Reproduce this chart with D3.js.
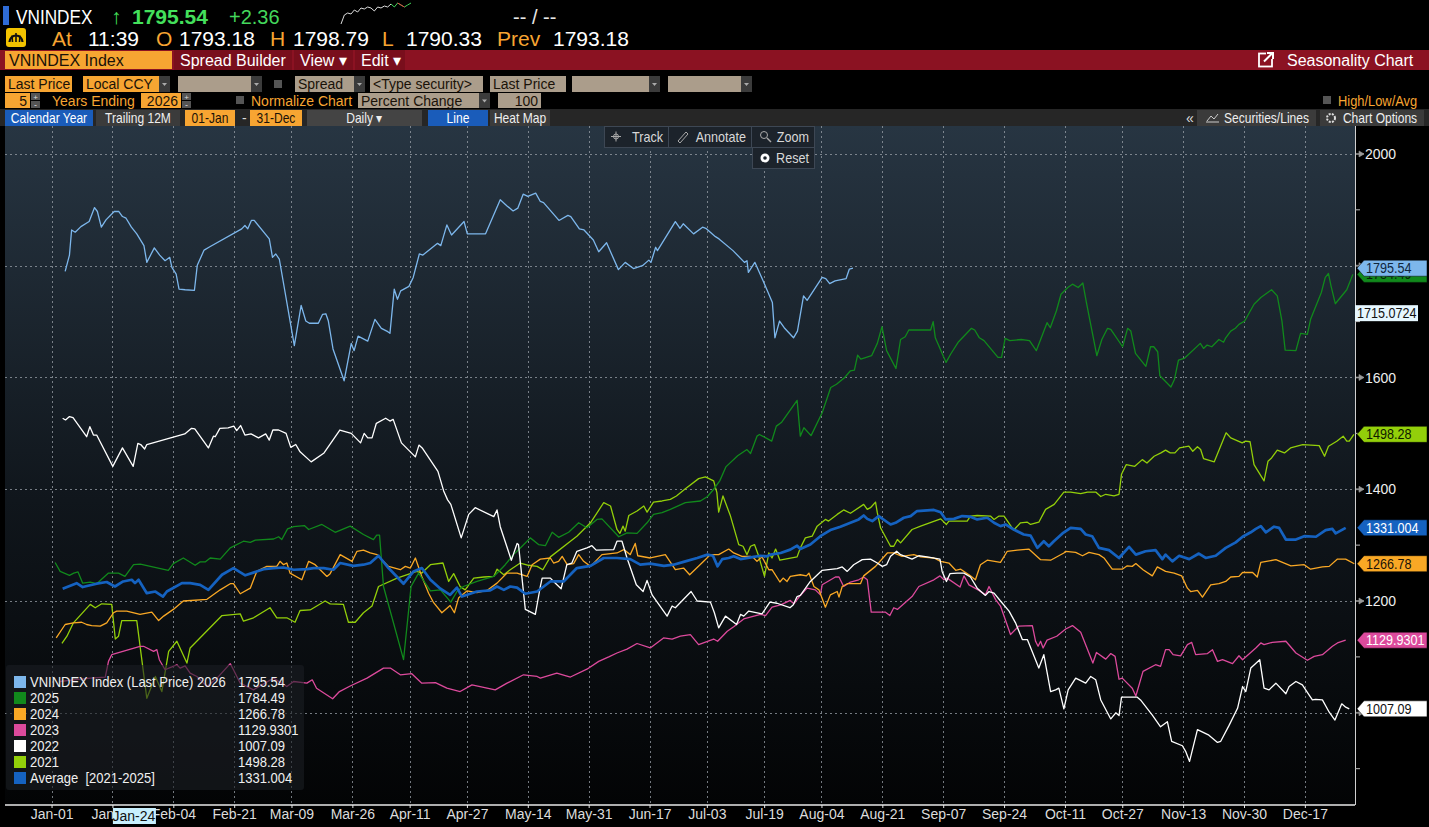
<!DOCTYPE html>
<html>
<head>
<meta charset="utf-8">
<script src="https://cdn.jsdelivr.net/npm/d3@7"></script>
<style>
  body { margin: 0; background: #000; overflow: hidden; }
  text { font-family: "Liberation Sans", Arial, sans-serif; }
</style>
</head>
<body>
<script>
// ---- data: [day of year (0 = Jan 01), index level] ----
var s2026 = [[3.8,1790],[5,1819],[5.6,1864],[6.6,1860],[8.2,1870],[10.5,1879],[12,1904],[12.8,1897],[13.9,1869],[15.2,1882],[17.5,1897],[18.8,1897],[19.8,1888],[20.8,1885],[22.3,1869],[23.8,1857],[25.8,1836],[26.6,1806],[28.7,1832],[30.2,1819],[31.7,1809],[33,1815],[33.6,1797],[34.8,1785],[35.6,1758],[37.3,1757],[39.9,1756],[40.7,1801],[42.6,1828],[44.2,1834],[53.1,1866],[54,1872],[54.8,1866],[55.8,1881],[56.6,1881],[60.8,1848],[61.7,1815],[62.6,1821],[63.6,1812],[67.8,1657],[69.7,1729],[71,1701],[72,1697],[74.5,1697],[75.7,1713],[76.6,1714],[77.3,1701],[78.6,1651],[81.7,1594],[83.7,1661],[84.5,1648],[85.6,1674],[88.3,1665],[90.3,1704],[92.1,1688],[93.9,1682],[94.5,1679],[95.7,1758],[96.6,1740],[97.5,1755],[99.8,1763],[101,1779],[102.7,1821],[103.7,1819],[107.8,1840],[108.7,1836],[110.4,1873],[111.7,1855],[115.2,1879],[116.1,1857],[121.2,1857],[125.3,1918],[127.2,1907],[128.9,1898],[130.2,1903],[131.7,1928],[133,1924],[135.2,1930],[136.5,1915],[137.4,1913],[141.7,1881],[144.2,1890],[145,1888],[147.4,1866],[148.7,1864],[151.3,1846],[152.8,1825],[155,1841],[158.3,1793],[160.2,1806],[162.5,1795],[165,1800],[166.8,1810],[167.4,1806],[168.7,1833],[169.2,1827],[174.2,1879],[175.5,1867],[176.4,1875],[179.3,1857],[181.8,1869],[182.7,1867],[185.4,1852],[186.4,1848],[190.3,1827],[193.5,1806],[194.2,1809],[194.6,1788],[196.4,1806],[198.7,1773],[201.3,1734],[202,1671],[203.3,1701],[204.6,1689],[207.2,1671],[208.3,1683],[210,1746],[211,1738],[215.2,1779],[216.2,1777],[217.3,1768],[218.8,1773],[221.9,1777],[222.8,1794],[223.8,1795.54]];

var s2025 = [[1,1269],[2.4,1253],[5,1246],[6.2,1250],[7.4,1252],[8.7,1232],[10.8,1234],[12.6,1231],[15.9,1250],[18.7,1250],[20.5,1244],[22.9,1265],[24.8,1266],[32.6,1255],[34,1267],[36.8,1277],[40.1,1264],[41.5,1270],[42.9,1270],[44.3,1277],[47.1,1275],[49.9,1295],[53.6,1307],[55.5,1305],[56.9,1309],[62,1311],[63.4,1315],[64.3,1310],[65.9,1329],[67.6,1333],[70.6,1335],[71.8,1328],[75.5,1337],[79.2,1323],[83.4,1334],[87.1,1319],[89.9,1310],[90.8,1318],[91.6,1318],[92.7,1226],[98.3,1095],[100.4,1226],[102.5,1250],[105.8,1218],[108.6,1220],[111.5,1198],[113.3,1218],[115,1226],[118.8,1235],[123.5,1244],[126.7,1265],[129,1283],[131.4,1298],[133.7,1313],[136,1301],[137.9,1299],[139.8,1323],[141.6,1314],[144.4,1323],[147.2,1340],[149.5,1331],[152.3,1346],[153.7,1347],[158.4,1315],[160.7,1322],[163.5,1321],[166.3,1340],[168.1,1355],[170.5,1358],[172.8,1364],[177,1376],[181.2,1379],[183.2,1387],[184.9,1400],[186.6,1415],[188.3,1440],[191.6,1460],[194.2,1471],[195.2,1464],[197,1495],[197.7,1498],[201.1,1486],[202.4,1513],[203.9,1520],[208.2,1559],[209.1,1495],[210.1,1510],[212.1,1496],[215.2,1537],[217.6,1582],[219.2,1588],[221.5,1600],[223.1,1612],[224.2,1613],[225.1,1640],[226,1633],[229,1639],[230.6,1661],[231.9,1691],[233.2,1648],[235.8,1616],[237.1,1668],[238.4,1673],[239.4,1685],[242.3,1685],[245.5,1685],[246.2,1700],[246.8,1671],[249.8,1627],[251.1,1642],[253.3,1664],[256.9,1688],[257.8,1685],[259.1,1671],[260.4,1666],[264.3,1636],[265.3,1636],[266.3,1670],[267.6,1666],[270.8,1668],[272.1,1667],[273.1,1666],[275,1648],[278,1698],[278.9,1689],[280.6,1719],[281.9,1749],[283.8,1761],[285.1,1767],[286.7,1761],[288,1769],[289,1734],[291.9,1639],[293.3,1668],[294.9,1688],[295.8,1686],[299.1,1655],[300.5,1688],[301.4,1683],[302.7,1643],[305.6,1620],[306.9,1655],[307.8,1655],[308.9,1646],[309.5,1603],[312.6,1583],[313.6,1597],[314.7,1631],[316.3,1634],[320.8,1661],[321.7,1652],[322.7,1658],[324,1655],[326,1668],[327.3,1663],[327.9,1671],[329.3,1683],[330.6,1688],[331.6,1695],[333.2,1701],[335.8,1731],[337.7,1743],[340.7,1757],[342.3,1746],[343.6,1701],[344.5,1649],[347.5,1648],[348.8,1679],[350.7,1677],[351.6,1704],[354.6,1752],[355.7,1779],[356.6,1786],[357.3,1764],[358.5,1732],[361.7,1757],[363.4,1784.49]];

var s2024 = [[1.3,1134],[3.8,1158],[6.1,1161],[8.4,1162],[9.8,1158],[11.2,1156],[13.6,1155],[15.4,1161],[17.3,1179],[18.2,1182],[21,1182],[24.7,1176],[28,1180],[29.9,1165],[31.3,1173],[34,1185],[36.8,1200],[43.4,1203],[47.1,1220],[49.9,1231],[50.8,1231],[52.7,1213],[55.5,1223],[57.3,1253],[60.1,1262],[62.9,1262],[63.8,1271],[64.8,1265],[65.7,1268],[66.6,1250],[69.9,1238],[71.8,1271],[73.6,1265],[76.9,1244],[77.8,1249],[80.6,1283],[83.9,1271],[85.3,1289],[87.1,1291],[89,1286],[90.9,1283],[94.1,1262],[97.4,1256],[98.8,1262],[100.2,1259],[101.6,1277],[103.4,1244],[105.3,1214],[106.7,1197],[109,1179],[111.3,1192],[112.5,1179],[113.7,1206],[116,1218],[118.8,1215],[121.6,1219],[124.4,1232],[127.2,1250],[130,1250],[132.8,1244],[134.2,1265],[136.5,1275],[139.3,1277],[140.2,1268],[141.6,1271],[142.6,1280],[144,1265],[145.8,1267],[147.2,1283],[148.6,1271],[150.5,1262],[153.7,1283],[157.9,1286],[159.8,1292],[161.6,1283],[163,1303],[163.7,1281],[167.2,1277],[171.4,1283],[174.2,1256],[176.5,1259],[178.2,1247],[182.1,1271],[184,1283],[186.3,1283],[189.1,1293],[190.5,1286],[192.8,1280],[195.2,1280],[196.1,1277],[197,1271],[198.4,1279],[200.3,1256],[201.2,1256],[203.4,1234],[204.3,1241],[205.4,1235],[206.3,1244],[209.1,1247],[210.8,1245],[211.5,1250],[212.9,1226],[214.3,1220],[216.1,1189],[217.5,1211],[219.4,1217],[219.9,1207],[220.8,1226],[222.2,1231],[225.9,1231],[226.8,1245],[230.1,1262],[233.4,1286],[235.2,1286],[237.5,1280],[240.8,1283],[242.7,1279],[246.4,1277],[248.3,1271],[250.6,1268],[252.5,1255],[253.9,1257],[256.6,1245],[258,1238],[259.4,1265],[261.3,1273],[265,1269],[266.9,1289],[269.7,1291],[272.9,1293],[276.2,1274],[279,1273],[282.7,1286],[283.2,1289],[286,1287],[287.9,1281],[289.7,1287],[292.5,1283],[293.9,1277],[296.2,1257],[299,1257],[300.4,1263],[301.8,1262],[302.8,1267],[304.8,1256],[307.4,1245],[308.8,1261],[311.1,1253],[313.5,1250],[315.6,1245],[317.2,1223],[318.1,1217],[320,1219],[321.4,1207],[323.7,1229],[326,1231],[327.9,1235],[329.3,1243],[331.6,1244],[332.6,1251],[335.4,1251],[336.7,1243],[337.7,1269],[341.9,1274],[346.1,1263],[349.8,1265],[351.6,1257],[354.9,1261],[356.8,1262],[359.1,1275],[361.4,1275],[363.8,1266.78]];

var s2023 = [[2.4,1056],[6.1,1059],[10.8,1062],[15,1064],[15.9,1092],[16.8,1104],[24.7,1119],[25.7,1119],[28.5,1110],[29.4,1113],[30.1,1095],[31.7,1077],[33.6,1082],[35,1086],[35.9,1080],[37.3,1084],[38.7,1071],[40.6,1065],[42,1056],[43.4,1047],[46.2,1062],[49.9,1088],[50.8,1077],[52.7,1053],[56.4,1041],[62,1062],[65.7,1047],[67.6,1056],[71.3,1053],[72.8,1059],[74,1044],[78.5,1025],[80.4,1038],[83.4,1048],[88.1,1062],[92.7,1080],[94.6,1080],[97.4,1068],[100.6,1070],[103.4,1053],[107.2,1054],[110.4,1044],[114.1,1038],[117.4,1050],[123.9,1041],[127.2,1053],[131.8,1068],[135.6,1065],[136.5,1062],[141.1,1071],[144.9,1064],[149.5,1078],[152.8,1092],[155.6,1100],[157.9,1107],[160.7,1114],[163.5,1124],[167.2,1116],[170.9,1134],[173.3,1132],[175.6,1137],[178.4,1140],[180.7,1122],[184.9,1132],[186,1128],[188.7,1146],[190.5,1154],[193.3,1168],[198,1176],[199.4,1174],[201.2,1189],[203.6,1193],[206.3,1201],[207.3,1195],[209.1,1210],[211,1223],[213.3,1220],[214.7,1211],[215.2,1229],[218.9,1243],[219.9,1243],[221.2,1226],[223.1,1234],[225.4,1238],[226.8,1243],[227.8,1238],[228.9,1180],[232.9,1180],[234.1,1174],[235.2,1188],[236.2,1185],[240.3,1208],[242.2,1226],[246.4,1238],[248.1,1245],[249.2,1238],[250.1,1241],[253.7,1225],[254.8,1245],[256.2,1229],[259,1219],[260.8,1211],[261.8,1226],[263.6,1203],[265,1191],[267.8,1140],[270.1,1155],[273.9,1156],[274.8,1128],[275.5,1119],[276.2,1128],[276.9,1116],[278,1130],[280.7,1137],[283.2,1150],[285.1,1156],[287.4,1144],[290.8,1089],[291.8,1108],[294.4,1096],[295.8,1106],[297,1101],[298.1,1060],[299,1062],[301.8,1044],[302.8,1030],[304.8,1074],[308.3,1086],[309.7,1083],[311.1,1113],[312.1,1113],[313.2,1104],[315.3,1102],[317.2,1122],[318.4,1126],[319.5,1104],[322.8,1106],[324.2,1113],[325.6,1092],[327,1095],[329.8,1088],[331.6,1102],[332.6,1095],[336.3,1116],[337.7,1125],[338.6,1122],[340.9,1126],[344.7,1128],[347.5,1107],[350.7,1094],[352.6,1101],[354.9,1104],[357.7,1119],[359.1,1125],[361.4,1129.93]];

var s2022 = [[3.1,1527],[3.9,1524],[5,1530],[6,1528],[9.8,1494],[10.7,1512],[11.7,1497],[12.6,1497],[17.1,1441],[19.8,1474],[22.8,1441],[24.1,1482],[24.9,1480],[26,1472],[26.6,1480],[37.2,1499],[39.1,1509],[40,1508],[43.8,1474],[45.2,1495],[45.7,1494],[47,1509],[49.3,1510],[50.9,1513],[51.7,1505],[52.8,1514],[54,1497],[55.7,1499],[57.8,1492],[59.8,1499],[60.8,1488],[61.8,1506],[63.4,1506],[65.5,1500],[66.8,1475],[68.2,1480],[69.4,1467],[72.5,1449],[76.1,1465],[80.5,1506],[83.7,1500],[86.3,1483],[87.3,1500],[88.3,1492],[89.5,1492],[90.7,1518],[93.3,1527],[94.5,1522],[95.4,1525],[97.7,1483],[101.6,1458],[102.6,1479],[103.5,1474],[107.9,1432],[109.5,1397],[110.6,1381],[111.5,1373],[114.4,1313],[116.5,1355],[118.3,1367],[123.5,1351],[124.4,1363],[125.3,1333],[128.4,1273],[130,1303],[130.4,1301],[132.3,1185],[135.1,1176],[136.5,1226],[137,1241],[139.3,1241],[140.2,1235],[142.3,1222],[143.9,1265],[145.3,1268],[146.7,1289],[149.5,1295],[150.9,1299],[152.1,1291],[157,1292],[157.9,1307],[159.3,1307],[160.7,1277],[163.3,1229],[165.2,1217],[166.3,1237],[167.7,1211],[171.9,1173],[173.3,1191],[174.2,1188],[178.6,1217],[180.3,1200],[184,1198],[185.1,1179],[186.3,1152],[188.2,1173],[191.3,1158],[192.4,1176],[193.3,1173],[194.7,1182],[198.4,1177],[200.6,1198],[202.6,1196],[206.2,1188],[207.1,1193],[208.2,1208],[209.1,1210],[211.9,1235],[215.2,1255],[219.4,1258],[220.8,1261],[222.2,1253],[224,1265],[226.4,1274],[228.7,1275],[230.6,1268],[232,1262],[233.2,1265],[234.3,1280],[236,1289],[237.1,1283],[240.3,1275],[242.2,1281],[244.5,1279],[248.1,1275],[248.7,1253],[249.9,1235],[250.9,1249],[252.9,1250],[254.8,1250],[256.6,1243],[258.5,1223],[260.8,1210],[261.8,1217],[263.2,1214],[265,1200],[267.4,1182],[269.2,1161],[271.1,1131],[272.5,1131],[275.7,1080],[277.1,1104],[279,1038],[280.4,1041],[281.3,1044],[282.7,1007],[283.9,1041],[286,1062],[288.8,1053],[290.2,1065],[291.6,1059],[293,1023],[295.8,989],[297.2,1000],[298.1,995],[298.8,1028],[303.2,1028],[304.1,1023],[307.4,996],[309.7,975],[311.6,984],[312.8,949],[315.8,941],[316.7,931],[317.8,913],[320,970],[323.2,960],[325.6,947],[326.5,949],[328.8,977],[331.2,1008],[332.6,1047],[333.5,1038],[334.9,1080],[337.4,1095],[338.6,1044],[340,1041],[341.9,1053],[344.7,1034],[345.6,1047],[347.5,1056],[349.3,1050],[352.1,1023],[353,1024],[354.9,1023],[356.8,1001],[358.4,987],[360.3,1016],[361.4,1010],[362.4,1007.09]];

var s2021 = [[2.9,1124],[4.3,1137],[6.1,1161],[10.8,1194],[12.2,1188],[14,1195],[16.8,1194],[17.8,1132],[18.7,1137],[19.6,1165],[23.8,1165],[26.6,1026],[29,1065],[30.8,1038],[32.7,1110],[35,1128],[37.8,1089],[38.7,1116],[47.6,1174],[52.7,1177],[53.6,1164],[56.4,1170],[61,1188],[62.9,1170],[65.7,1170],[68,1162],[69.4,1183],[72.2,1184],[76.4,1200],[77.8,1195],[81.5,1194],[82.9,1162],[84.8,1162],[87.1,1179],[89.5,1191],[91.3,1226],[96.5,1241],[102,1253],[103.4,1250],[105.8,1265],[109.3,1268],[110.9,1235],[112.3,1249],[114.1,1226],[115.5,1220],[117.9,1241],[120.7,1243],[123.5,1244],[124.4,1257],[126.3,1247],[128.1,1256],[130.9,1268],[133.2,1264],[135.6,1262],[137.2,1256],[139.3,1279],[144.9,1307],[146.7,1316],[150.5,1340],[154.2,1376],[156.1,1370],[157.9,1328],[158.7,1321],[159.6,1334],[160.2,1325],[161.2,1353],[163.5,1361],[165.4,1370],[166.3,1359],[168.1,1377],[170.5,1379],[172.8,1382],[174.5,1388],[177,1401],[180.7,1419],[182.6,1422],[184.9,1415],[185.8,1394],[186.3,1359],[187.5,1388],[189.6,1352],[191.9,1301],[193.1,1298],[194.2,1283],[195.2,1298],[196.3,1301],[197.5,1280],[199.1,1244],[200.3,1286],[201.2,1277],[202.2,1293],[203.4,1273],[208.2,1279],[209.1,1295],[210.5,1313],[212.4,1316],[213.8,1334],[216.1,1346],[217,1343],[219.4,1355],[221.2,1363],[223.1,1357],[226.8,1373],[227.8,1364],[228.7,1367],[230.1,1377],[230.6,1358],[231.5,1331],[234.3,1298],[235.2,1298],[236.2,1310],[237.1,1304],[240.3,1328],[242.7,1334],[248.3,1347],[249.9,1337],[250.6,1343],[255.7,1343],[256.6,1352],[258.5,1353],[262.2,1352],[263.2,1346],[264.6,1352],[266,1352],[268.7,1327],[270.6,1340],[272.5,1341],[273.4,1337],[275.7,1341],[277.6,1364],[280,1373],[282.7,1395],[284.6,1395],[287.4,1392],[289.3,1395],[291.6,1395],[293,1387],[294.4,1391],[296.7,1388],[298.1,1391],[298.8,1427],[300.1,1444],[302.5,1441],[304.6,1453],[305.9,1447],[307.9,1459],[309.8,1465],[311.1,1470],[312.4,1465],[313.7,1465],[315,1474],[317.6,1477],[318.7,1468],[320,1476],[320.9,1471],[321.7,1455],[324.7,1449],[328,1501],[329.3,1492],[332.5,1483],[333.4,1486],[334.7,1485],[335.8,1444],[338.6,1415],[339.7,1450],[340.7,1456],[342.3,1470],[344.3,1465],[346,1474],[349.4,1480],[354,1478],[355.5,1459],[356.6,1477],[358.9,1486],[360.7,1495],[361.7,1486],[362.4,1486],[363.7,1498.28]];

var sAvg = [[3.1,1222],[7,1232],[8.7,1225],[12.6,1231],[15.4,1234],[17.7,1226],[20,1235],[22.4,1238],[23.3,1232],[24.3,1238],[26.6,1214],[29,1217],[31.1,1208],[32.2,1217],[36.4,1232],[38.7,1232],[41.5,1229],[43.8,1220],[47.6,1247],[50.8,1259],[54.1,1246],[59.2,1257],[62,1259],[64.8,1260],[67.6,1256],[71.3,1257],[73.2,1259],[76,1259],[78.7,1256],[80.6,1268],[84.3,1263],[87.1,1265],[89,1268],[91.3,1281],[94.1,1259],[98.3,1231],[101.1,1253],[103.4,1259],[105.8,1238],[108.6,1222],[111.3,1211],[113.2,1224],[114.6,1208],[118.8,1217],[122.5,1219],[124.4,1226],[126.3,1220],[128.1,1226],[130,1224],[132.3,1213],[135.6,1217],[139.3,1235],[143,1235],[146.7,1259],[150.5,1263],[154.2,1277],[157.9,1277],[161.6,1275],[164.4,1265],[167.2,1267],[171,1263],[173.7,1265],[176.5,1270],[180.3,1277],[183.2,1283],[184.7,1281],[186,1262],[187.3,1275],[189.1,1277],[190.5,1280],[192.4,1275],[196.1,1279],[198,1281],[199.8,1280],[200.8,1283],[203.6,1286],[206.3,1292],[208.2,1299],[209.1,1293],[211.9,1301],[214.7,1316],[217.5,1327],[220.3,1333],[223.1,1340],[225.4,1346],[226.8,1353],[227.8,1347],[229.2,1343],[231,1352],[233.4,1341],[234.3,1337],[235.7,1340],[238,1349],[239.9,1352],[241.7,1361],[246.4,1363],[248.3,1359],[249.7,1346],[252,1347],[254.3,1352],[256.6,1351],[258.5,1346],[261.3,1349],[263.2,1340],[265,1334],[266.4,1337],[268.7,1328],[271.5,1319],[273.4,1317],[275.3,1295],[277.1,1307],[278.5,1298],[279.9,1307],[282.3,1321],[284.6,1331],[287.4,1329],[288.8,1319],[290.6,1316],[292.5,1295],[295.3,1291],[298.1,1277],[300.9,1297],[302.8,1283],[305.5,1289],[308.3,1291],[310.2,1275],[311.1,1283],[313,1271],[314.9,1281],[317.7,1275],[320.4,1285],[322.3,1277],[325.1,1281],[327.9,1295],[330.7,1305],[332.6,1315],[334.9,1323],[336.3,1329],[337.7,1334],[339.1,1323],[341.4,1333],[342.8,1331],[344.7,1310],[347.5,1310],[349.8,1316],[353.1,1315],[355.8,1327],[357.7,1329],[358.6,1321],[361.4,1331.004]];

var seriesNames = ["VNINDEX Index (Last Price) 2026", "2025", "2024", "2023", "2022", "2021", "Average\u00a0 [2021-2025]"];
var seriesLast = ["1795.54", "1784.49", "1266.78", "1129.9301", "1007.09", "1498.28", "1331.004"];
var seriesColors = ["#7db7ec", "#11891c", "#f9a825", "#dc4a9c", "#ffffff", "#93cf0a", "#1562c0"];
var seriesData = [s2026, s2025, s2024, s2023, s2022, s2021, sAvg];

var xTicks = ["01-01","01-18","02-04","02-21","03-09","03-26","04-11","04-27","05-14","05-31","06-17","07-03","07-19","08-04","08-21","09-07","09-24","10-11","10-27","11-13","11-30","12-17"];
var yTicks = [1000, 1200, 1400, 1600, 1800, 2000];
var yMinor = [900, 1100, 1300, 1500, 1700, 1900];

var cursorDate = "01-24", cursorValue = 1715.0724;
var sparkVals = [1776,1785,1787,1786,1790,1788,1792,1791,1793,1792,1789,1793,1792,1794,1793,1796,1793,1797,1795,1793,1795,1797];

// ---- page ----
var W = 1429, H = 827;
var svg = d3.select("body").append("svg").attr("width", W).attr("height", H);
var orange = "#f7a532", tan = "#ab9d8b", red = "#8b1222";

function txt(g, x, y, s, size, fill, opts) {
  opts = opts || {};
  var k = opts.sx || 1;
  var t = g.append("text").attr("x", x / k).attr("y", y).text(s)
    .attr("font-size", size).attr("fill", fill)
    .attr("text-anchor", opts.anchor || "start")
    .attr("font-weight", opts.weight || "normal");
  if (k !== 1) t.attr("transform", "scale(" + k + ",1)");
  return t;
}
function box(g, x, y, w, h, fill) {
  return g.append("rect").attr("x", x).attr("y", y).attr("width", w).attr("height", h).attr("fill", fill);
}
function dropArrow(g, x, y, h) {
  box(g, x, y, 11, h, "#3b3b3b");
  g.append("path").attr("d", "M" + (x + 3) + "," + (y + h / 2 - 1) + "h5l-2.5,3z").attr("fill", "#aaa");
}
function spinner(g, x, y) {
  box(g, x, y, 9, 7, "#555"); box(g, x, y + 8, 9, 7, "#555");
  txt(g, x + 4.5, y + 6.5, "+", 8, "#ddd", {anchor: "middle"});
  txt(g, x + 4.5, y + 14.5, "-", 9, "#ddd", {anchor: "middle"});
}

var hd = svg.append("g");
// row 1
box(hd, 3, 6, 6, 19, "#2e6bd6");
txt(hd, 16, 24, "VNINDEX", 21, "#fff", {sx: 0.82});
txt(hd, 111, 24, "\u2191", 21, "#44e05c");
txt(hd, 132, 24, "1795.54", 21, "#44e05c", {weight: "bold"});
txt(hd, 229, 24, "+2.36", 20, "#44d85c");
var sx = d3.scaleLinear().domain([0, sparkVals.length - 1]).range([341, 411]);
var sy = d3.scaleLinear().domain(d3.extent(sparkVals)).range([24, 3]);
function spark(i0) { return d3.line().x(function(d, i) { return sx(i + i0); }).y(function(d) { return sy(d); }); }
hd.append("path").attr("d", spark(0)(sparkVals.slice(0, 16))).attr("fill", "none").attr("stroke", "#ddd").attr("stroke-width", 1);
hd.append("path").attr("d", spark(15)(sparkVals.slice(15))).attr("fill", "none").attr("stroke", "#3fd35a").attr("stroke-width", 1);
hd.append("path").attr("d", spark(17)(sparkVals.slice(17, 20))).attr("fill", "none").attr("stroke", "#e34040").attr("stroke-width", 1);
txt(hd, 513, 24, "--  /  --", 20, "#e8e8e8");

// row 2
hd.append("rect").attr("x", 6).attr("y", 28).attr("width", 20).attr("height", 19).attr("rx", 3).attr("fill", "#f3c300");
hd.append("path").attr("d", "M9.5,42 A6.5,6.5 0 1 1 22.5,42").attr("fill", "none").attr("stroke", "#111").attr("stroke-width", 2.2);
hd.append("path").attr("d", "M16,42 L16,33 M12.5,42 L12,35.5 M19.5,42 L20,35.5").attr("stroke", "#111").attr("stroke-width", 1.6);
var r2 = [["At", 52, orange], ["11:39", 88, "#fff"], ["O", 156, orange], ["1793.18", 179, "#fff"],
          ["H", 270, orange], ["1798.79", 293, "#fff"], ["L", 382, orange], ["1790.33", 406, "#fff"],
          ["Prev", 497, orange], ["1793.18", 553, "#fff"]];
r2.forEach(function(d) { txt(hd, d[1], 46, d[0], 21, d[2]); });

// row 3 (red bar)
box(hd, 0, 50, W, 20, red);
box(hd, 5, 51, 167, 18, orange);
txt(hd, 9, 66, "VNINDEX Index", 16, "#1a1208");
[["Spread Builder", 174, 118], ["View \u25be", 294, 59], ["Edit \u25be", 355, 50]].forEach(function(d) {
  box(hd, d[1], 50, d[2], 20, "#790e1c");
  txt(hd, d[1] + 6, 66, d[0], 16, "#fff");
});
hd.append("rect").attr("x", 1259).attr("y", 53.5).attr("width", 13).attr("height", 13).attr("fill", "none").attr("stroke", "#fff").attr("stroke-width", 1.8);
box(hd, 1266, 51, 8, 8, red);
hd.append("path").attr("d", "M1264,61.5 L1272,53.5 M1267,53 H1273 V59").attr("stroke", "#fff").attr("stroke-width", 2).attr("fill", "none");
txt(hd, 1287, 66, "Seasonality Chart", 16, "#fff");

// row 4
box(hd, 5, 76, 67, 16, orange); txt(hd, 8, 89, "Last Price", 14, "#1a1208");
box(hd, 83, 76, 77, 16, orange); txt(hd, 86, 89, "Local CCY", 14, "#1a1208"); dropArrow(hd, 159, 76, 16);
box(hd, 178, 76, 73, 16, tan); dropArrow(hd, 251, 76, 16);
box(hd, 274, 80, 8, 8, "#555");
box(hd, 295, 76, 59, 16, tan); txt(hd, 298, 89, "Spread", 14, "#1a1208"); dropArrow(hd, 354, 76, 16);
box(hd, 370, 76, 113, 16, tan); txt(hd, 373, 89, "<Type security>", 14, "#1a1208");
box(hd, 490, 76, 76, 16, tan); txt(hd, 493, 89, "Last Price", 14, "#1a1208");
box(hd, 572, 76, 77, 16, tan); dropArrow(hd, 649, 76, 16);
box(hd, 668, 76, 73, 16, tan); dropArrow(hd, 741, 76, 16);

// row 5
box(hd, 5, 93, 25, 15, orange); txt(hd, 27, 106, "5", 14, "#1a1208", {anchor: "end"}); spinner(hd, 31, 93);
txt(hd, 52, 106, "Years  Ending", 14, orange);
box(hd, 141, 93, 40, 15, orange); txt(hd, 178, 106, "2026", 14, "#1a1208", {anchor: "end"}); spinner(hd, 182, 93);
box(hd, 236, 96, 8, 8, "#555");
txt(hd, 251, 106, "Normalize Chart", 14, orange);
box(hd, 358, 93, 121, 15, tan); txt(hd, 361, 106, "Percent Change", 14, "#1a1208"); dropArrow(hd, 479, 93, 15);
box(hd, 498, 93, 43, 15, tan); txt(hd, 538, 106, "100", 14, "#1a1208", {anchor: "end"});
box(hd, 1323, 96, 8, 8, "#555");
txt(hd, 1338, 106, "High/Low/Avg", 14, orange, {sx: 0.92});

// row 6
box(hd, 0, 109, W, 17, "#262626");
[["Calendar Year", 5, 88, "#1a5cba", "#fff", 0], ["Trailing 12M", 96, 84, "#3b3b3b", "#eee", 0],
 ["01-Jan", 185, 50, orange, "#1a1208", 0], ["31-Dec", 250, 52, orange, "#1a1208", 0],
 ["Daily \u25be", 307, 115, "#444", "#eee", 0], ["Line", 428, 60, "#1a5cba", "#fff", 0],
 ["Heat Map", 490, 60, "#3b3b3b", "#eee", 0],
 ["Securities/Lines", 1197, 119, "#3b3b3b", "#eee", 10], ["Chart Options", 1320, 104, "#3b3b3b", "#eee", 8]].forEach(function(d) {
  box(hd, d[1], 110, d[2], 16, d[3]);
  txt(hd, d[1] + d[2] / 2 + d[5], 123, d[0], 14, d[4], {anchor: "middle", sx: 0.86});
});
txt(hd, 242, 123, "-", 14, "#ddd");
txt(hd, 1186, 123, "\u00ab", 14, "#ddd");
hd.append("path").attr("d", "M1207,121 L1211,116 L1214,119 L1218,114 M1206,122 H1219").attr("stroke", "#ccc").attr("fill", "none");
hd.append("circle").attr("cx", 1331).attr("cy", 118).attr("r", 4).attr("fill", "none").attr("stroke", "#ddd").attr("stroke-width", 2).attr("stroke-dasharray", "2,1.2");

// ---- plot ----
var pL = 5, pR = 1355, pT = 126, pB = 805;
var jan1 = new Date(2026, 0, 1);
function dayDate(d) { return new Date(jan1.getTime() + d * 864e5); }
function mdDate(s) { var p = s.split("-"); return new Date(2026, +p[0] - 1, +p[1]); }

var x = d3.scaleTime().domain([new Date(2025, 11, 19), new Date(2026, 11, 31)]).range([pL, pR]);
var y = d3.scaleLinear().domain([835, 2050]).range([pB, pT]);

var defs = svg.append("defs");
var grad = defs.append("linearGradient").attr("id", "bg").attr("x1", 0).attr("y1", 0).attr("x2", 0).attr("y2", 1);
grad.append("stop").attr("offset", "0%").attr("stop-color", "#273542");
grad.append("stop").attr("offset", "55%").attr("stop-color", "#10161c");
grad.append("stop").attr("offset", "100%").attr("stop-color", "#030405");
svg.append("rect").attr("x", pL).attr("y", pT).attr("width", pR - pL).attr("height", pB - pT).attr("fill", "url(#bg)");

var grid = svg.append("g").attr("stroke", "#9aa0a8").attr("stroke-opacity", 0.75).attr("stroke-dasharray", "2,3").attr("stroke-width", 1);
grid.selectAll("line.h").data(yTicks).enter().append("line")
  .attr("x1", pL).attr("x2", pR)
  .attr("y1", function(d) { return Math.round(y(d)) + 0.5; }).attr("y2", function(d) { return Math.round(y(d)) + 0.5; });
grid.selectAll("line.v").data(xTicks).enter().append("line")
  .attr("y1", pT).attr("y2", pB)
  .attr("x1", function(d) { return Math.round(x(mdDate(d))) + 0.5; }).attr("x2", function(d) { return Math.round(x(mdDate(d))) + 0.5; });

// series lines
var line = d3.line().x(function(d) { return x(dayDate(d[0])); }).y(function(d) { return y(d[1]); });
var drawOrder = [5, 3, 2, 1, 4, 6, 0];
svg.append("g").selectAll("path").data(drawOrder).enter().append("path")
  .attr("d", function(i) { return line(seriesData[i]); })
  .attr("fill", "none")
  .attr("stroke", function(i) { return seriesColors[i]; })
  .attr("stroke-width", function(i) { return i === 6 ? 2.7 : 1.3; })
  .attr("stroke-linejoin", "round");

// x axis
var xAxis = d3.axisBottom(x).tickValues(xTicks.map(mdDate)).tickFormat(d3.timeFormat("%b-%d")).tickSize(3).tickPadding(1);
var gx = svg.append("g").attr("transform", "translate(0," + pB + ")").call(xAxis);
gx.select(".domain").attr("stroke", "#e8e8e8").attr("stroke-width", 1.5).attr("d", "M" + pL + ",0H" + pR);
gx.selectAll(".tick line").attr("stroke", "#e8e8e8");
gx.selectAll(".tick text").attr("fill", "#dcdcdc").attr("font-size", 14).attr("font-family", null);

// y axis (right); tick labels sitting under a value flag are hidden, as in the terminal
var flagYs = seriesLast.map(function(v) { return y(+v); });
function underFlag(v) { return flagYs.some(function(fy) { return Math.abs(fy - y(v)) < 12; }); }
var gy = svg.append("g").attr("transform", "translate(" + pR + ",0)");
gy.append("line").attr("x1", 0.5).attr("x2", 0.5).attr("y1", pT).attr("y2", pB).attr("stroke", "#cfcfcf");
gy.selectAll("line.minor").data(yMinor).enter().append("line")
  .attr("x1", 0).attr("x2", 5).attr("y1", function(d) { return y(d); }).attr("y2", function(d) { return y(d); }).attr("stroke", "#bbb");
var yt = gy.selectAll("g.tk").data(yTicks).enter().append("g").attr("transform", function(d) { return "translate(0," + y(d) + ")"; });
yt.append("path").attr("d", "M1,-0.5 H4 L9,0 L4,0.5 H1 M4,-3 L9,0 L4,3 Z").attr("fill", "#999").attr("stroke", "#999").attr("stroke-width", 0.6);
yt.filter(function(d) { return !underFlag(d); }).append("text").attr("x", 10).attr("dy", "0.36em").attr("font-size", 14).attr("fill", "#eee").text(function(d) { return d; });

// end-value flags
var flagOrder = [5, 3, 2, 4, 6, 1, 0];
var flagText = ["#10263c", "#062406", "#1a1208", "#fff", "#111", "#0f1a00", "#fff"];
var fl = svg.append("g").selectAll("g").data(flagOrder).enter().append("g")
  .attr("transform", function(i) { return "translate(" + (pR + 2) + "," + y(+seriesLast[i]) + ")"; });
fl.append("path").attr("d", "M0,0 L7,-8 H70 V8 H7 Z").attr("fill", function(i) { return seriesColors[i]; })
  .attr("stroke", "#000").attr("stroke-width", 0.5);
fl.append("text").attr("x", 9 / 0.9).attr("dy", "0.36em").attr("font-size", 14).attr("transform", "scale(0.9,1)")
  .attr("fill", function(i) { return flagText[i]; }).text(function(i) { return seriesLast[i]; });

// cursor readouts
var cy = svg.append("g").attr("transform", "translate(" + pR + "," + y(cursorValue) + ")");
cy.append("rect").attr("x", 0).attr("y", -8).attr("width", 63).attr("height", 16).attr("fill", "#e6f7ff");
cy.append("text").attr("x", 2 / 0.9).attr("dy", "0.36em").attr("font-size", 14).attr("transform", "scale(0.9,1)")
  .attr("fill", "#111").text(cursorValue.toFixed(4));
var cx = svg.append("g").attr("transform", "translate(" + x(mdDate(cursorDate)) + "," + (pB + 3) + ")");
cx.append("rect").attr("x", -21).attr("y", 0).attr("width", 43).attr("height", 16).attr("fill", "#c8effd");
cx.append("text").attr("x", 0).attr("y", 13).attr("text-anchor", "middle").attr("font-size", 14).attr("fill", "#111")
  .text(d3.timeFormat("%b-%d")(mdDate(cursorDate)));

// toolbar
var tb = svg.append("g");
[["Track", 604, 64, 126], ["Annotate", 668, 83, 126], ["Zoom", 751, 63, 126], ["Reset", 752, 62, 147]].forEach(function(d) {
  tb.append("rect").attr("x", d[1] + 0.5).attr("y", d[3] + 0.5).attr("width", d[2]).attr("height", 21)
    .attr("fill", "#1c232b").attr("stroke", "#3d4754");
  txt(tb, d[1] + d[2] - 5, d[3] + 16, d[0], 14, "#d8d8d8", {anchor: "end", sx: 0.9});
});
tb.append("path").attr("d", "M611,136.5 h10 M616,131.5 v10").attr("stroke", "#aaa");
tb.append("circle").attr("cx", 616).attr("cy", 136.5).attr("r", 2.5).attr("fill", "none").attr("stroke", "#aaa");
tb.append("path").attr("d", "M678,141 L686,132 L688,134 L680,143 Z").attr("fill", "none").attr("stroke", "#aaa");
tb.append("circle").attr("cx", 764).attr("cy", 135).attr("r", 3.5).attr("fill", "none").attr("stroke", "#aaa");
tb.append("path").attr("d", "M767,138 L771,142").attr("stroke", "#aaa").attr("stroke-width", 1.5);
tb.append("circle").attr("cx", 765).attr("cy", 158).attr("r", 4.5).attr("fill", "#fff");
tb.append("circle").attr("cx", 765).attr("cy", 158).attr("r", 1.8).attr("fill", "#1c232b");

// legend (semi-transparent, lines show through)
var lg = svg.append("g");
lg.append("rect").attr("x", 6).attr("y", 665).attr("width", 298).attr("height", 125).attr("rx", 3)
  .attr("fill", "#1b1e23").attr("fill-opacity", 0.6);
var li = lg.selectAll("g.it").data(seriesNames).enter().append("g")
  .attr("transform", function(d, i) { return "translate(0," + (682 + i * 16) + ")"; });
li.append("rect").attr("x", 14).attr("y", -6).attr("width", 12).attr("height", 12)
  .attr("fill", function(d, i) { return seriesColors[i]; });
li.append("text").attr("x", 30 / 0.93).attr("dy", "0.36em").attr("font-size", 14).attr("transform", "scale(0.93,1)")
  .attr("fill", "#f0f0f0").text(function(d) { return d; });
li.append("text").attr("x", 238 / 0.93).attr("dy", "0.36em").attr("font-size", 14).attr("transform", "scale(0.93,1)")
  .attr("fill", "#f0f0f0").text(function(d, i) { return seriesLast[i]; });
</script>
</body>
</html>
